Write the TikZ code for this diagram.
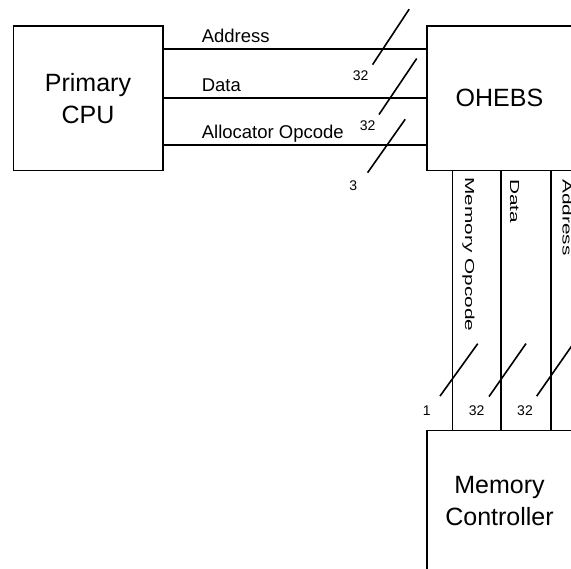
\documentclass[tikz,border=0pt]{standalone}
\usepackage{fontspec}
\setmainfont{Liberation Sans}
\usepackage{graphicx}
\usetikzlibrary{positioning,calc}

\begin{document}
\begin{tikzpicture}[x=1pt,y=1pt,line width=1.6pt,
    unit/.style={rectangle,draw,outer sep=0pt,minimum width=149.4pt,minimum height=144.5pt,
      align=center,font=\fontsize{25}{32}\selectfont},
    sig/.style={inner sep=0pt,anchor=base west,yshift=6.5pt,font=\fontsize{18.5}{20}\selectfont},
    vsig/.style={inner sep=0pt,anchor=base west,rotate=-90,font=\fontsize{13}{14}\selectfont},
    bits/.style={inner sep=0pt,font=\fontsize{14}{15}\selectfont}]
    \useasboundingbox (0,0) rectangle (571,569);
    \clip (0,0) rectangle (571,569);
    \node[unit] (cpu) at (88,470.75) {Primary\\CPU};
    \node[unit,minimum width=145pt] (ohebs) [right=264.3pt of cpu] {OHEBS};
    \node[unit,minimum width=145pt,minimum height=141pt] (mem) [below=260pt of ohebs] {Memory\\Controller};
    \draw ([yshift=49pt]cpu.east) -- coordinate[pos=.833] (xaddr) node[sig,pos=.145] {Address} ([yshift=49pt]ohebs.west);
    \draw (cpu.east) -- coordinate[pos=.86] (xdata) node[sig,pos=.145] {Data} (ohebs.west);
    \draw ([yshift=-46.75pt]cpu.east) -- coordinate[pos=.849] (xalloc) node[sig,pos=.145] {Allocator Opcode} ([yshift=-46.75pt]ohebs.west);
    \draw ($(xaddr)+(26.3,40)$) -- ($(xaddr)+(-10.3,-15.4)$) node[bits,xshift=-12pt,yshift=-11.3pt] {32};
    \draw ($(xdata)+(26.7,39.7)$) -- ($(xdata)+(-11,-16.3)$) node[bits,xshift=-11.3pt,yshift=-11pt] {32};
    \draw ($(xalloc)+(18.1,25.7)$) -- ($(xalloc)+(-19.5,-27.7)$) node[bits,xshift=-14.4pt,yshift=-13.3pt] {3};
    \draw ([xshift=-47.2pt]ohebs.south) -- coordinate[pos=.802] (xmop) ([xshift=-47.2pt]mem.north);
    \draw ([xshift=1.2pt]ohebs.south) -- coordinate[pos=.805] (xmdata) ([xshift=1.2pt]mem.north);
    \draw ([xshift=51.5pt]ohebs.south) -- coordinate[pos=.789] (xmaddr) ([xshift=51.5pt]mem.north);
    \node[vsig] (lmop) at ($(ohebs.south)+(-34.5,-6.3)$) {\scalebox{1.6}[1]{Memory Opcode}};
    \node[vsig] (lmdata) at ($(ohebs.south)+(10.5,-8)$) {\scalebox{1.6}[1]{Data}};
    \node[vsig] (lmaddr) at ($(ohebs.south)+(63,-8)$) {\scalebox{1.6}[1]{Address}};
    \draw ($(xmop)+(25.4,35.3)$) -- ($(xmop)+(-12.3,-17.1)$) node[bits,xshift=-13.3pt,yshift=-14.3pt] {1};
    \draw ($(xmdata)+(25.3,36.2)$) -- ($(xmdata)+(-11.7,-16.8)$) node[bits,xshift=-12.3pt,yshift=-14pt] {32};
    \draw ($(xmaddr)+(22.7,32.5)$) -- ($(xmaddr)+(-14.3,-20.5)$) node[bits,xshift=-11.7pt,yshift=-14.3pt] {32};
\end{tikzpicture}
\end{document}
